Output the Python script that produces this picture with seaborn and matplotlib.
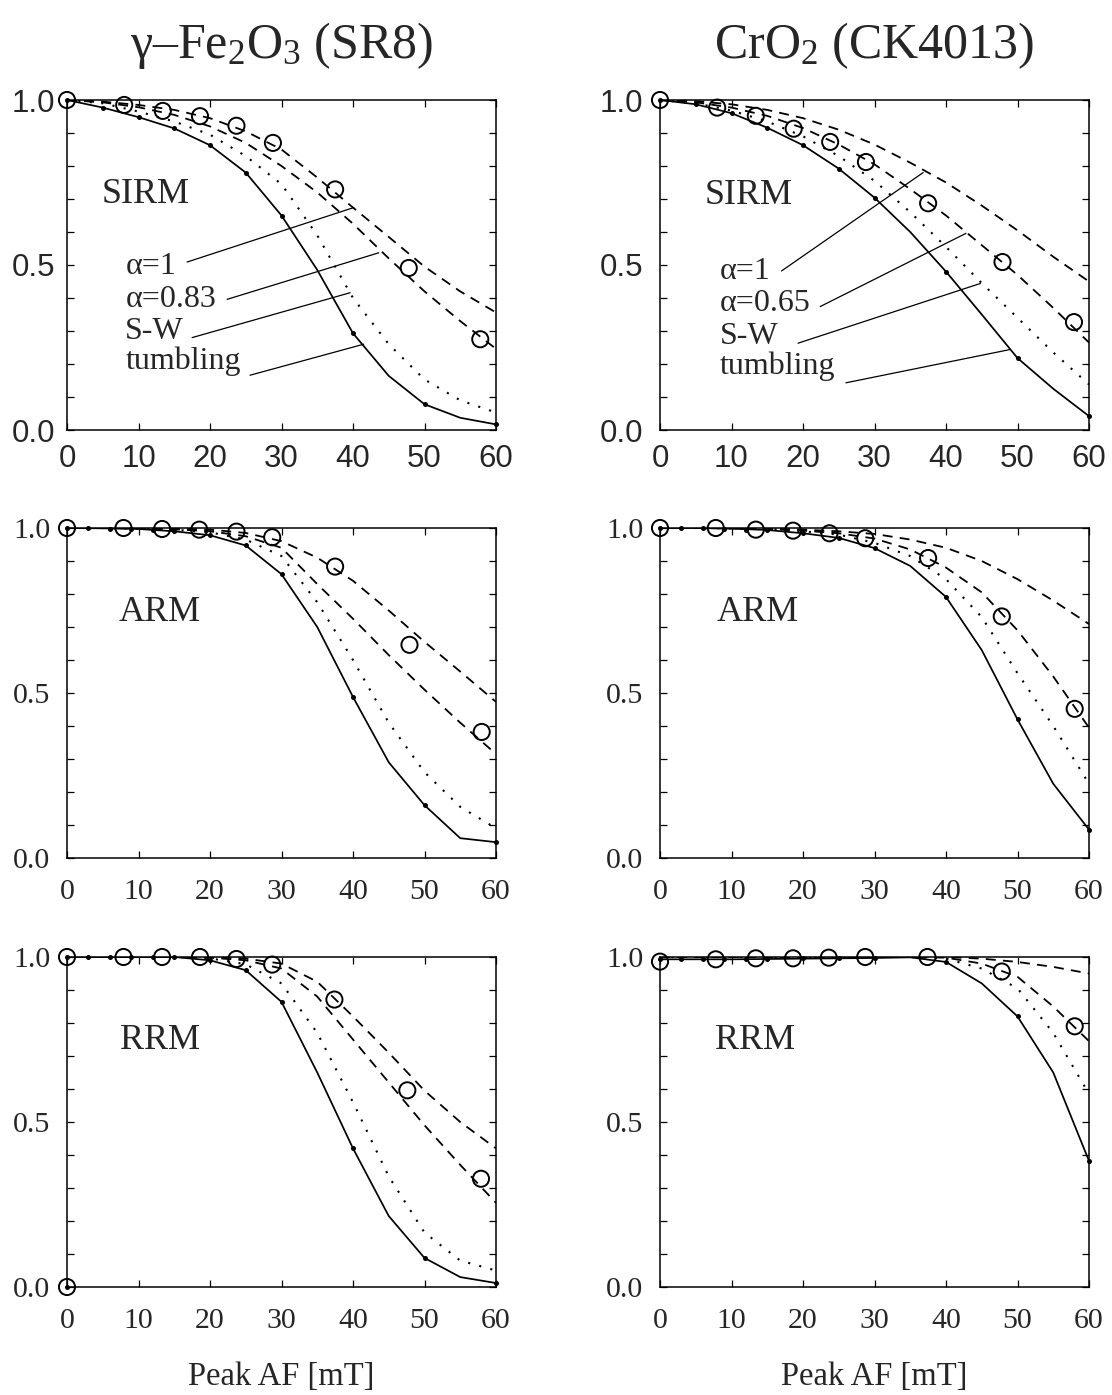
import numpy as np
import pandas as pd
import seaborn as sns
import matplotlib.pyplot as plt
from matplotlib.ticker import MultipleLocator

sns.set_style('ticks')
plt.rcParams['font.family'] = ['Liberation Serif', 'DejaVu Serif']
plt.rcParams['mathtext.fontset'] = 'custom'
plt.rcParams['mathtext.rm'] = 'Liberation Serif'
plt.rcParams['mathtext.default'] = 'rm'

# field steps of the model curves (mT)
curve_x = [0, 5, 10, 15, 20, 25, 30, 35, 40, 45, 50, 55, 60]

# --- SIRM, gamma-Fe2O3 ---
sirm_fe_tumbling = [1.0, 0.977, 0.948, 0.914, 0.863, 0.780, 0.650, 0.485, 0.293, 0.164, 0.078, 0.037, 0.017]
sirm_fe_sw = [1.0, 0.99, 0.965, 0.935, 0.895, 0.83, 0.745, 0.59, 0.40, 0.26, 0.153, 0.09, 0.053]
sirm_fe_a2 = [1.0, 0.993, 0.978, 0.955, 0.92, 0.87, 0.80, 0.72, 0.625, 0.52, 0.42, 0.33, 0.246]
sirm_fe_a1 = [1.0, 0.995, 0.985, 0.97, 0.945, 0.905, 0.85, 0.765, 0.674, 0.585, 0.495, 0.42, 0.356]
sirm_fe_meas_x = [0, 8.0, 13.4, 18.6, 23.7, 28.8, 37.5, 47.8, 57.8]
sirm_fe_meas_y = [1.0, 0.985, 0.967, 0.951, 0.922, 0.87, 0.729, 0.491, 0.275]
sirm_dot_x = [0, 5, 10, 15, 20, 25, 30, 40, 50, 60]
sirm_fe_dot_y = [1.0, 0.977, 0.948, 0.914, 0.863, 0.780, 0.650, 0.293, 0.078, 0.017]

# --- SIRM, CrO2 ---
sirm_cr_tumbling = [1.0, 0.987, 0.96, 0.916, 0.863, 0.792, 0.704, 0.60, 0.48, 0.35, 0.218, 0.125, 0.042]
sirm_cr_sw = [1.0, 0.99, 0.968, 0.935, 0.89, 0.83, 0.755, 0.66, 0.555, 0.445, 0.34, 0.235, 0.138]
sirm_cr_a2 = [1.0, 0.993, 0.977, 0.952, 0.915, 0.865, 0.805, 0.73, 0.65, 0.56, 0.47, 0.37, 0.265]
sirm_cr_a1 = [1.0, 0.996, 0.987, 0.97, 0.945, 0.91, 0.865, 0.81, 0.75, 0.68, 0.605, 0.525, 0.45]
sirm_cr_meas_x = [0, 8.0, 13.4, 18.7, 23.8, 28.8, 37.5, 47.9, 57.9]
sirm_cr_meas_y = [1.0, 0.977, 0.952, 0.913, 0.873, 0.812, 0.687, 0.509, 0.327]
sirm_cr_dot_y = [1.0, 0.987, 0.96, 0.916, 0.863, 0.792, 0.704, 0.48, 0.218, 0.042]

# --- ARM, gamma-Fe2O3 ---
arm_fe_tumbling = [1.0, 0.999, 0.997, 0.99, 0.978, 0.947, 0.86, 0.70, 0.488, 0.29, 0.16, 0.06, 0.048]
arm_fe_sw = [1.0, 1.0, 0.998, 0.995, 0.987, 0.965, 0.915, 0.775, 0.60, 0.41, 0.26, 0.155, 0.09]
arm_fe_a2 = [1.0, 1.0, 0.999, 0.996, 0.99, 0.975, 0.94, 0.83, 0.725, 0.615, 0.51, 0.41, 0.315]
arm_fe_a1 = [1.0, 1.0, 0.999, 0.998, 0.995, 0.985, 0.96, 0.91, 0.84, 0.75, 0.655, 0.565, 0.473]
arm_fe_meas_x = [0, 7.9, 13.3, 18.5, 23.7, 28.7, 37.5, 47.9, 58.0]
arm_fe_meas_y = [1.0, 1.0, 0.997, 0.995, 0.989, 0.972, 0.883, 0.646, 0.382]
arm_dot_x = [0, 3, 6, 9, 12, 15, 20, 25, 30, 40, 50, 60]
arm_fe_dot_y = [1.0, 0.999, 0.998, 0.997, 0.995, 0.99, 0.978, 0.947, 0.86, 0.488, 0.16, 0.048]

# --- ARM, CrO2 ---
arm_cr_tumbling = [1.0, 1.0, 0.998, 0.994, 0.984, 0.97, 0.939, 0.885, 0.791, 0.63, 0.42, 0.225, 0.086]
arm_cr_sw = [1.0, 1.0, 0.999, 0.997, 0.99, 0.98, 0.955, 0.915, 0.845, 0.73, 0.56, 0.40, 0.225]
arm_cr_a2 = [1.0, 1.0, 0.999, 0.997, 0.992, 0.984, 0.968, 0.935, 0.88, 0.805, 0.69, 0.55, 0.395]
arm_cr_a1 = [1.0, 1.0, 1.0, 0.998, 0.995, 0.99, 0.982, 0.965, 0.94, 0.90, 0.845, 0.78, 0.709]
arm_cr_meas_x = [0, 7.8, 13.4, 18.6, 23.7, 28.7, 37.5, 47.8, 58.0]
arm_cr_meas_y = [1.0, 1.0, 0.995, 0.992, 0.984, 0.969, 0.909, 0.732, 0.452]
arm_cr_dot_y = [1.0, 1.0, 1.0, 0.997, 0.995, 0.994, 0.984, 0.97, 0.939, 0.791, 0.42, 0.086]

# --- RRM, gamma-Fe2O3 ---
rrm_fe_tumbling = [1.0, 1.0, 1.0, 1.0, 0.99, 0.96, 0.864, 0.65, 0.42, 0.215, 0.088, 0.03, 0.012]
rrm_fe_sw = [1.0, 1.0, 1.0, 1.0, 0.996, 0.978, 0.92, 0.77, 0.56, 0.335, 0.165, 0.08, 0.05]
rrm_fe_a2 = [1.0, 1.0, 1.0, 1.0, 0.998, 0.99, 0.965, 0.88, 0.75, 0.62, 0.49, 0.37, 0.255]
rrm_fe_a1 = [1.0, 1.0, 1.0, 1.0, 0.999, 0.995, 0.98, 0.925, 0.82, 0.71, 0.595, 0.50, 0.42]
rrm_fe_meas_x = [0, 7.9, 13.3, 18.6, 23.7, 28.7, 37.4, 47.6, 57.9, 0]
rrm_fe_meas_y = [1.0, 1.0, 1.0, 1.0, 0.994, 0.977, 0.871, 0.596, 0.328, 0.0]
rrm_fe_dot_x = [0, 3, 6, 9, 12, 15, 20, 25, 30, 40, 50, 60, 0]
rrm_fe_dot_y = [1.0, 1.0, 1.0, 1.0, 1.0, 1.0, 0.99, 0.96, 0.864, 0.42, 0.088, 0.013, 0.0]

# --- RRM, CrO2 ---
rrm_cr_tumbling = [0.993, 0.993, 0.993, 0.994, 0.995, 0.996, 0.997, 0.999, 0.985, 0.92, 0.82, 0.65, 0.382]
rrm_cr_sw = [1.0, 1.0, 1.0, 1.0, 1.0, 1.0, 1.0, 1.0, 0.995, 0.965, 0.905, 0.77, 0.585]
rrm_cr_a2 = [1.0, 1.0, 1.0, 1.0, 1.0, 1.0, 1.0, 1.0, 0.998, 0.98, 0.94, 0.85, 0.745]
rrm_cr_a1 = [1.0, 1.0, 1.0, 1.0, 1.0, 1.0, 1.0, 1.0, 1.0, 0.995, 0.985, 0.97, 0.95]
rrm_cr_meas_x = [0, 7.8, 13.4, 18.6, 23.6, 28.7, 37.4, 47.8, 58.0]
rrm_cr_meas_y = [0.986, 0.993, 0.996, 0.996, 0.998, 1.0, 1.0, 0.956, 0.79]
rrm_cr_dot_y = [0.993, 0.993, 0.993, 0.994, 0.994, 0.995, 0.996, 0.997, 0.997, 0.985, 0.82, 0.382]

col_titles = [r'γ–Fe$_2$O$_3$ (SR8)', r'CrO$_2$ (CK4013)']
curve_names = ['α=1', None, 'S-W', 'tumbling']
alpha_fe = 'α=0.83'
alpha_cr = 'α=0.65'
xlabel = 'Peak AF [mT]'

# leader lines of the SIRM panels: (x_text, y_text, x_curve, y_curve)
leaders_fe = [(16.8, 0.509, 40.1, 0.674), (22.4, 0.396, 43.6, 0.537),
              (17.5, 0.280, 39.6, 0.416), (25.6, 0.166, 41.5, 0.260)]
leaders_cr = [(17.0, 0.482, 36.8, 0.780), (22.4, 0.374, 42.8, 0.596),
              (19.3, 0.263, 44.8, 0.444), (26.0, 0.143, 49.0, 0.244)]
label_base_fe = [0.472, 0.373, 0.277, 0.184]
label_base_cr = [0.457, 0.361, 0.260, 0.169]

panels = [
    dict(curves=[sirm_fe_a1, sirm_fe_a2, sirm_fe_sw, sirm_fe_tumbling], mx=sirm_fe_meas_x, my=sirm_fe_meas_y,
         dx=sirm_dot_x, dy=sirm_fe_dot_y, name='SIRM', nx=4.9, ny=0.687),
    dict(curves=[sirm_cr_a1, sirm_cr_a2, sirm_cr_sw, sirm_cr_tumbling], mx=sirm_cr_meas_x, my=sirm_cr_meas_y,
         dx=sirm_dot_x, dy=sirm_cr_dot_y, name='SIRM', nx=6.3, ny=0.684),
    dict(curves=[arm_fe_a1, arm_fe_a2, arm_fe_sw, arm_fe_tumbling], mx=arm_fe_meas_x, my=arm_fe_meas_y,
         dx=arm_dot_x, dy=arm_fe_dot_y, name='ARM', nx=7.2, ny=0.719),
    dict(curves=[arm_cr_a1, arm_cr_a2, arm_cr_sw, arm_cr_tumbling], mx=arm_cr_meas_x, my=arm_cr_meas_y,
         dx=arm_dot_x, dy=arm_cr_dot_y, name='ARM', nx=7.9, ny=0.719),
    dict(curves=[rrm_fe_a1, rrm_fe_a2, rrm_fe_sw, rrm_fe_tumbling], mx=rrm_fe_meas_x, my=rrm_fe_meas_y,
         dx=rrm_fe_dot_x, dy=rrm_fe_dot_y, name='RRM', nx=7.4, ny=0.72),
    dict(curves=[rrm_cr_a1, rrm_cr_a2, rrm_cr_sw, rrm_cr_tumbling], mx=rrm_cr_meas_x, my=rrm_cr_meas_y,
         dx=arm_dot_x, dy=rrm_cr_dot_y, name='RRM', nx=7.7, ny=0.72),
]

styles = [dict(ls=(0, (5.5, 4)), lw=1.3), dict(ls=(0, (5.5, 4)), lw=1.3),
          dict(ls=(0, (1, 4.5)), lw=1.5), dict(ls='-', lw=1.25)]

W, H = 1112, 1395
fig = plt.figure(figsize=(W / 100, H / 100), dpi=100)
lefts = [67, 660]
bottoms = [430, 858, 1287]

for i, p in enumerate(panels):
    row, col = divmod(i, 2)
    ax = fig.add_axes([lefts[col] / W, 1 - bottoms[row] / H, 429 / W, 330 / H])

    for vals, st in zip(p['curves'], styles):
        sns.lineplot(x=curve_x, y=vals, ax=ax, color='k', linestyle=st['ls'], lw=st['lw'])
    sns.scatterplot(x=p['dx'], y=p['dy'], ax=ax, s=13, color='k', edgecolor='k', linewidth=0,
                    clip_on=False, zorder=6)
    sns.scatterplot(x=p['mx'], y=p['my'], ax=ax, s=135, facecolors='none', edgecolor='k',
                    linewidth=1.4, clip_on=False, zorder=7)

    ax.text(p['nx'], p['ny'], p['name'], fontsize=26, ha='left', va='baseline')

    if row == 0:
        leaders = leaders_fe if col == 0 else leaders_cr
        bases = label_base_fe if col == 0 else label_base_cr
        names = list(curve_names)
        names[1] = alpha_fe if col == 0 else alpha_cr
        lx = 8.16 if col == 0 else 8.4
        for nm, b, (x0, y0, x1, y1) in zip(names, bases, leaders):
            ax.text(lx, b, nm, fontsize=23, ha='left', va='baseline')
            ax.annotate('', xy=(x1, y1), xytext=(x0, y0),
                        arrowprops=dict(arrowstyle='-', color='k', lw=0.9, shrinkA=0, shrinkB=0))

    ax.set_xlim(0, 60)
    ax.set_ylim(0, 1)
    fam = 'Liberation Sans' if row == 0 else 'Liberation Serif'
    fs = 22.5 if row == 0 else 21.5
    ax.set_xticks(range(0, 61, 10), labels=[str(v) for v in range(0, 61, 10)],
                  fontfamily=fam, fontsize=fs)
    ax.set_yticks([0, 0.5, 1.0], labels=['0.0', '0.5', '1.0'], fontfamily=fam, fontsize=fs)
    ax.yaxis.set_minor_locator(MultipleLocator(0.1))
    ypad = 8.6 if (row == 0 and col == 0) else 12.0
    xpad = 10 if row == 0 else 15
    ax.tick_params(which='both', direction='in', top=True, right=True, length=5, width=0.9,
                   color='k')
    ax.tick_params(axis='x', pad=xpad)
    ax.tick_params(axis='y', pad=ypad)
    for s in ax.spines.values():
        s.set_color('k')
        s.set_linewidth(1.1)
    ax.set_ylabel('')
    if row == 2:
        ax.set_xlabel(xlabel, fontsize=23.5, labelpad=20)
    else:
        ax.set_xlabel('')

fig.text(281.5 / W, 1 - 58 / H, col_titles[0], fontsize=36, ha='center', va='baseline')
fig.text(874.5 / W, 1 - 58 / H, col_titles[1], fontsize=36, ha='center', va='baseline')

fig.savefig('out.png', dpi=100)
